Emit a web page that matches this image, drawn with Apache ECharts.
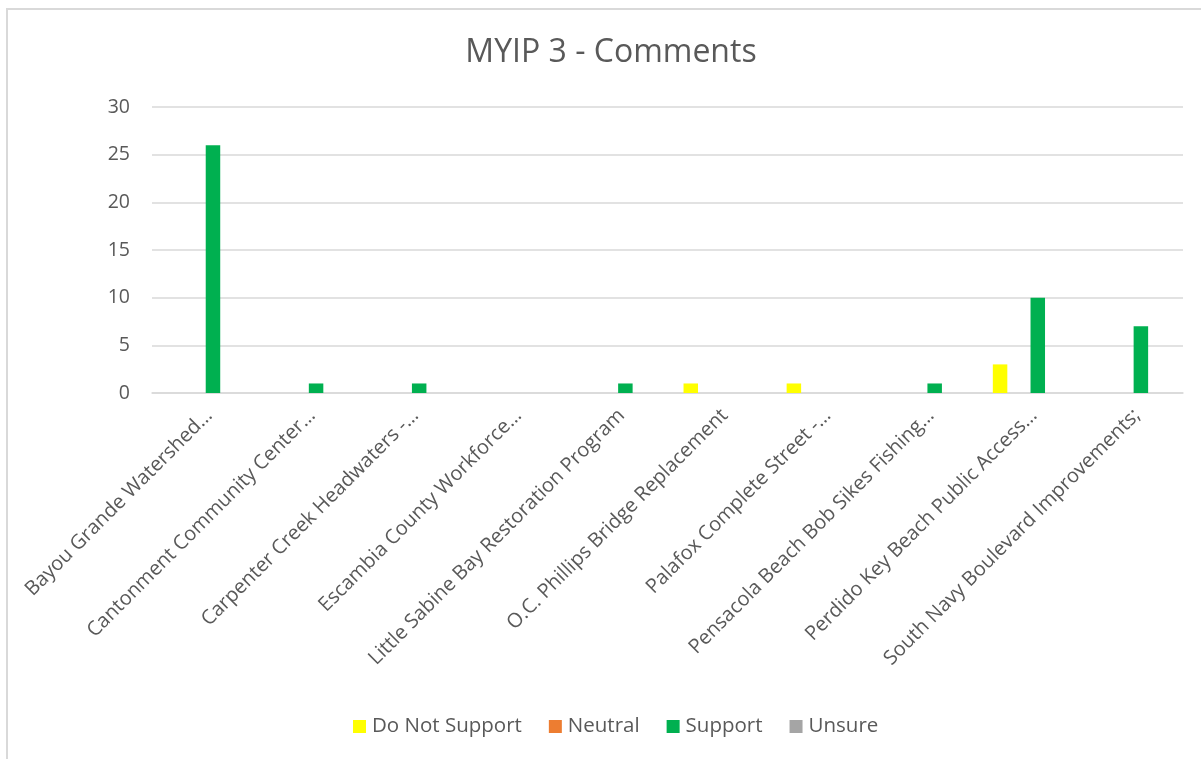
<!DOCTYPE html>
<html>
<head>
<meta charset="utf-8">
<script src="https://cdn.jsdelivr.net/npm/echarts@6/dist/echarts.min.js"></script>
<style>
    html, body { margin: 0; padding: 0; background: #fff; }
    #frame {
        position: absolute; left: 6px; top: 8px; width: 1195px; height: 751px;
        border-top: 2px solid #d9d9d9; border-left: 2px solid #d9d9d9;
    }
    #chart { position: absolute; left: 0; top: 0; width: 1201px; height: 759px; }
</style>
</head>
<body>
<div id="frame"></div>
<div id="chart"></div>
<script>
    // 数据
    const categories = [
        'Bayou Grande Watershed…',
        'Cantonment Community Center…',
        'Carpenter Creek Headwaters -…',
        'Escambia County Workforce…',
        'Little Sabine Bay Restoration Program',
        'O.C. Phillips Bridge Replacement',
        'Palafox Complete Street -…',
        'Pensacola Beach Bob Sikes Fishing…',
        'Perdido Key Beach Public Access…',
        'South Navy Boulevard Improvements;'
    ]
    const doNotSupport = [0, 0, 0, 0, 0, 1, 1, 0, 3, 0]
    const neutral = [0, 0, 0, 0, 0, 0, 0, 0, 0, 0]
    const support = [26, 1, 1, 0, 1, 0, 0, 1, 10, 7]
    const unsure = [0, 0, 0, 0, 0, 0, 0, 0, 0, 0]

    const seriesNames = ['Do Not Support', 'Neutral', 'Support', 'Unsure']
    const seriesData = [doNotSupport, neutral, support, unsure]
    const colorList = ['#ffff00', '#ed7d31', '#00b050', '#a5a5a5']

    const font = '"Open Sans", sans-serif'
    const textColor = '#595959'

    let myChart = echarts.init(document.getElementById('chart'))
    let option = {
        animation: false,
        title: {
            text: 'MYIP 3 - Comments',
            left: 606,
            top: 32,
            textAlign: 'center',
            textStyle: {
                fontSize: 32,
                fontFamily: font,
                fontWeight: 'normal',
                color: textColor
            }
        },
        legend: {
            data: seriesNames,
            left: 348,
            top: 711,
            icon: 'rect',
            itemWidth: 13,
            itemHeight: 13,
            itemGap: 27,
            textStyle: {
                fontSize: 20.5,
                fontFamily: font,
                color: textColor,
                padding: [0, 0, 0, 1]
            }
        },
        grid: {
            left: 152,
            right: 18,
            top: 107,
            bottom: 366,
            containLabel: false
        },
        xAxis: {
            type: 'category',
            data: categories,
            axisTick: { show: false },
            axisLine: { lineStyle: { color: '#d9d9d9', width: 1.5 } },
            axisLabel: {
                rotate: 45,
                interval: 0,
                margin: 25,
                fontSize: 20,
                fontFamily: font,
                color: textColor,
                padding: [0, -8, 0, 0]
            }
        },
        yAxis: {
            type: 'value',
            min: 0,
            max: 30,
            interval: 5,
            axisLine: { show: false },
            axisTick: { show: false },
            axisLabel: {
                margin: 22,
                fontSize: 19.5,
                fontFamily: font,
                color: textColor
            },
            splitLine: { lineStyle: { color: '#d9d9d9', width: 1.5 } }
        },
        series: seriesNames.map((name, index) => ({
            name: name,
            type: 'bar',
            data: seriesData[index],
            barWidth: 14.5,
            barGap: '30%',
            itemStyle: { color: colorList[index] }
        }))
    }
    myChart.setOption(option)
</script>
</body>
</html>
